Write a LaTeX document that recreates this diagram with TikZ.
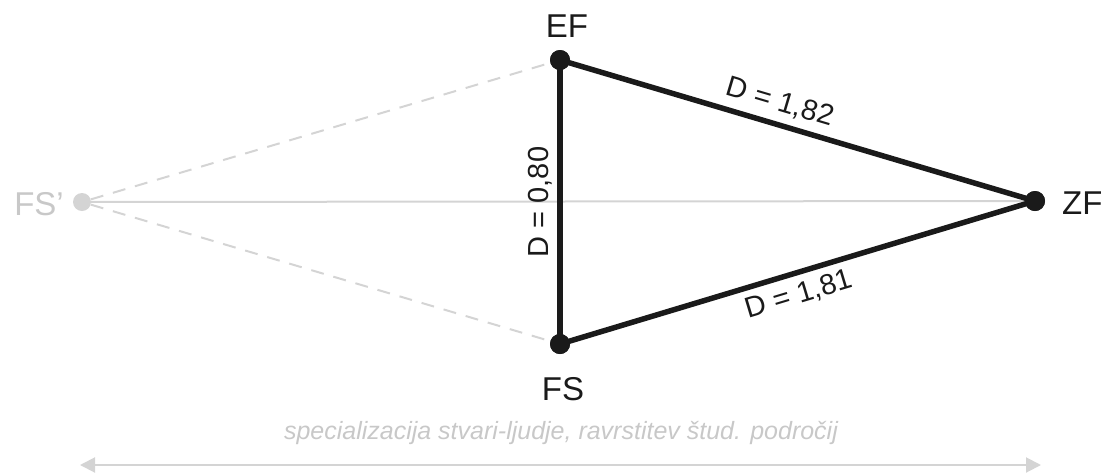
\documentclass[tikz,border=0pt]{standalone}
\usepackage{fontspec}
\setmainfont{Liberation Sans}
\usetikzlibrary{arrows.meta}
\definecolor{lightg}{HTML}{D4D4D4}
\definecolor{textg}{HTML}{C8C8C8}
\definecolor{dark}{HTML}{1A1A1A}
\tikzset{
  bigdot/.style={circle,fill=dark,inner sep=0pt,minimum size=20pt},
  greydot/.style={circle,fill=lightg,inner sep=0pt,minimum size=18pt},
  strong/.style={draw=dark,line width=5.5pt},
  faint/.style={draw=lightg,line width=2pt},
  faintdash/.style={draw=lightg,line width=2pt,dash pattern=on 13pt off 10pt},
  nlabel/.style={font=\fontsize{33}{33}\selectfont,text=dark,inner sep=0pt},
  elabel/.style={font=\fontsize{29}{29}\selectfont,text=dark,sloped,inner sep=7pt},
}
\begin{document}
\begin{tikzpicture}[x=1pt,y=-1pt]
\useasboundingbox (0,0) rectangle (1101,475);
\node[greydot] (fsp) at (82,202) {};
\node[bigdot] (ef) at (560,60) {};
\node[bigdot] (fs) at (560,344) {};
\node[bigdot] (zf) at (1035,201) {};
\node[nlabel,anchor=base] (tef) at (567,37) {EF};
\node[nlabel,anchor=base] (tfs) at (563,400) {FS};
\node[nlabel,anchor=base west] (tzf) at (1062,214) {ZF};
\node[nlabel,anchor=base east,text=textg] (tfsp) at (64,215) {FS’};
\draw[faint] (fsp) -- (zf);
\draw[faintdash] (fsp) -- (ef);
\draw[faintdash] (fsp) -- (fs);
\draw[strong] (fs.center) -- node[elabel,above,pos=0.5,inner sep=5pt] {D = 0,80} (ef.center);
\draw[strong] (ef.center) -- node[elabel,above,pos=0.45] {D = 1,82} (zf.center);
\draw[strong] (fs.center) -- node[elabel,below,pos=0.49] {D = 1,81} (zf.center);
\node[bigdot] at (ef) {};
\node[bigdot] at (fs) {};
\node[bigdot] at (zf) {};
\coordinate (al) at (80,465);
\coordinate (ar) at (1041,465);
\draw[draw=lightg,line width=2pt,{Triangle[length=15pt,width=15pt]}-{Triangle[length=15pt,width=15pt]}] (al) -- (ar);
\node[font=\fontsize{25}{25}\selectfont\itshape,text=textg] (cap) at (561,433) {specializacija stvari-ljudje, ravrstitev štud. področij};
\end{tikzpicture}
\end{document}
